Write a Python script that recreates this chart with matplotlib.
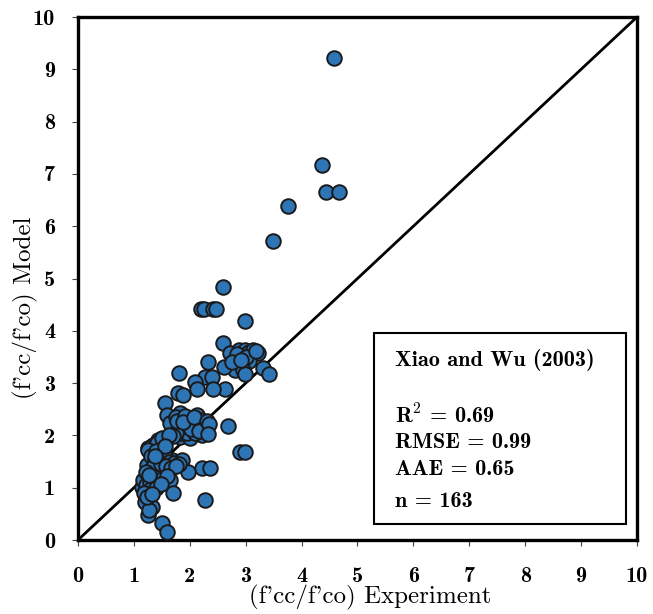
import matplotlib
matplotlib.use("Agg")
import matplotlib.pyplot as plt
from matplotlib.patches import Rectangle

plt.rcParams['axes.unicode_minus'] = False
plt.rcParams['mathtext.fontset'] = 'cm'

# experiment vs model
exp_vals = [
    4.58, 4.36, 4.44, 4.67, 3.76, 3.49, 2.59,
    2.20, 2.25, 2.42, 2.47, 2.99, 2.59,
    2.72, 2.88, 2.99, 3.06, 3.13, 3.22,
    3.06, 2.81, 2.95, 2.99, 3.31, 3.42,
    2.33, 2.63, 2.68, 2.90, 2.99,
    1.81, 2.27, 2.39, 2.09, 2.13, 2.42, 1.79, 1.88,
    1.82, 2.00, 2.13, 2.22, 1.82, 2.00,
    1.56, 1.59, 1.65, 1.86, 1.43, 1.34, 1.25,
    1.41, 1.25, 1.68, 1.52, 1.86, 1.32, 1.23,
    2.22, 2.36, 1.97, 1.52, 1.41, 1.23, 1.43, 1.65,
    1.29, 1.70, 2.27, 1.20, 1.32, 1.25, 1.50, 1.59,
    1.27, 1.14, 1.16,
    1.75, 1.90, 1.95, 2.05, 2.10, 1.95, 2.05, 1.85, 1.95, 2.10, 2.15, 1.80, 1.75, 2.20,
    1.70, 1.78, 1.92, 2.02, 2.17, 1.88, 2.08,
    1.30, 1.38, 1.45, 1.55, 1.62, 1.72, 1.80, 1.35, 1.48, 1.58, 1.66, 1.75,
    1.22, 1.28, 1.36, 1.44, 1.52, 1.60, 1.30, 1.40, 1.48,
    1.18, 1.24, 1.33, 1.21, 1.27,
    2.30, 2.35, 2.33, 2.62, 2.85, 3.00, 3.18, 2.76, 2.92,
    1.50, 1.62, 1.40, 1.55, 1.37,
]
model_vals = [
    9.22, 7.17, 6.65, 6.65, 6.39, 5.72, 4.84,
    4.41, 4.41, 4.41, 4.41, 4.19, 3.77,
    3.58, 3.63, 3.63, 3.60, 3.63, 3.58,
    3.42, 3.25, 3.25, 3.17, 3.29, 3.17,
    3.40, 2.89, 2.18, 1.68, 1.68,
    3.19, 3.12, 3.12, 3.02, 2.89, 2.89, 2.81, 2.77,
    2.43, 2.24, 2.39, 2.01, 1.97, 1.95,
    2.62, 2.39, 2.24, 2.20, 1.91, 1.82, 1.76,
    1.85, 1.72, 1.53, 1.53, 1.53, 1.49, 1.43,
    1.38, 1.38, 1.30, 1.30, 1.28, 1.15, 1.11, 1.15,
    0.96, 0.90, 0.76, 0.73, 0.63, 0.48, 0.33, 0.15,
    0.57, 1.01, 1.15,
    2.35, 2.33, 2.30, 2.30, 2.25, 2.15, 2.10, 2.05, 2.05, 2.05, 2.20, 2.15, 2.05, 2.30,
    1.98, 2.28, 2.38, 2.12, 2.08, 2.26, 2.35,
    1.60, 1.55, 1.62, 1.58, 1.50, 1.48, 1.45, 1.40, 1.45, 1.42, 1.38, 1.42,
    1.05, 1.10, 1.20, 1.05, 1.18, 1.22, 0.98, 1.00, 1.08,
    0.90, 0.82, 0.88, 1.30, 1.25,
    2.28, 2.22, 2.02, 3.30, 3.55, 3.50, 3.62, 3.40, 3.45,
    1.95, 2.00, 1.70, 1.80, 1.60,
]

stats_title = "Xiao and Wu (2003)"
stats_lines = [r"R$^{\mathbf{2}}$ = 0.69", "RMSE = 0.99", "AAE = 0.65", "n = 163"]

fig = plt.figure(figsize=(6.53, 6.14), dpi=100)
ax = fig.add_axes([0.1194, 0.1205, 0.8561, 0.8518])

ax.plot([0, 10], [0, 10], color='black', lw=2, zorder=1)
ax.scatter(exp_vals, model_vals, s=110, c='#2E75B6', edgecolors='#1a1a1a',
           linewidths=1.4, zorder=3)

ax.set_xlim(0, 10)
ax.set_ylim(0, 10)
ax.set_xticks(range(0, 11))
ax.set_yticks(range(0, 11))
for s in ax.spines.values():
    s.set_linewidth(2.4)
ax.tick_params(direction='out', length=4.5, width=0.8, color='#444444')
ax.tick_params(axis='x', pad=15)
ax.tick_params(axis='y', pad=12)
for lab in ax.get_xticklabels() + ax.get_yticklabels():
    lab.set_family('cmb10')
    lab.set_fontsize(16)

ax.set_xlabel("(f'cc/f'co) Experiment", family='cmr10', fontsize=18)
ax.set_ylabel("(f'cc/f'co) Model", family='cmr10', fontsize=18)
ax.xaxis.set_label_coords(0.523, -0.086)
ax.yaxis.set_label_coords(-0.072, 0.445)

# stats box
ax.add_patch(Rectangle((5.30, 0.31), 4.50, 3.65, fill=True, facecolor='white',
                       edgecolor='black', lw=1.5, zorder=4))
ax.text(5.67, 3.44, stats_title, family='cmb10', fontsize=16,
        va='center', zorder=5)
ys = [2.39, 1.87, 1.34, 0.73]
for t, y in zip(stats_lines, ys):
    ax.text(5.67, y, t, family='cmb10', fontsize=16, va='center', zorder=5)

fig.savefig("out.png", dpi=100)
